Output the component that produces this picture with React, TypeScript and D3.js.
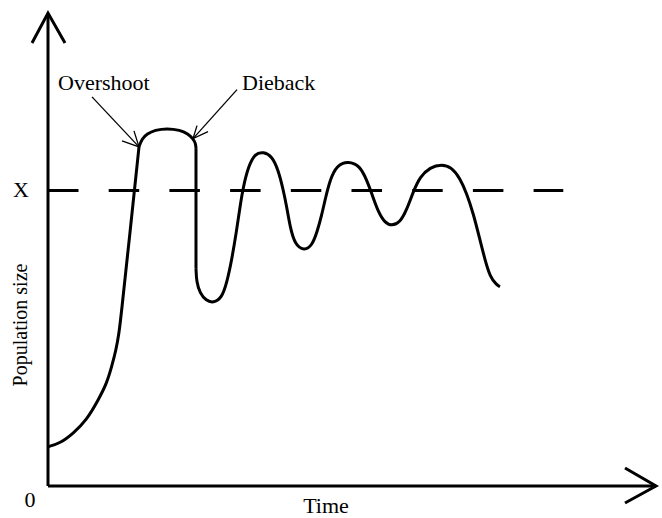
import React, { useEffect, useRef } from 'react';
import * as d3 from 'd3';

// [time, population] in chart units; carrying capacity X = 1
const growth: [number, number][] = [
  [0, 0.133], [0.395, 0.144], [0.832, 0.178], [1.273, 0.223], [1.655, 0.291],
  [1.931, 0.347], [2.095, 0.404], [2.237, 0.46], [2.336, 0.517], [2.401, 0.573],
  [2.7, 0.86], [2.993, 1.147],
];

const overshoot: [number, number][] = [
  [2.993, 1.147], [3.092, 1.175], [3.257, 1.191], [3.52, 1.204], [3.914, 1.21],
  [4.342, 1.204], [4.605, 1.191], [4.77, 1.175], [4.852, 1.16], [4.868, 1.143],
];

const dieback: [number, number][] = [
  [4.868, 1.143], [4.868, 0.737],
];

const oscillation: [number, number][] = [
  [4.868, 0.737], [4.885, 0.69], [5.0, 0.652], [5.2, 0.627], [5.438, 0.619], [5.714, 0.636],
  [5.878, 0.686], [6.043, 0.764], [6.207, 0.866], [6.316, 0.945], [6.424, 1.012],
  [6.589, 1.08], [6.809, 1.125], [7.082, 1.13], [7.359, 1.117], [7.576, 1.069],
  [7.74, 1.001], [7.852, 0.945], [7.961, 0.877], [8.125, 0.816], [8.421, 0.796],
  [8.684, 0.812], [8.86, 0.862], [9.0, 0.915], [9.13, 0.975], [9.276, 1.035],
  [9.497, 1.085], [9.878, 1.1], [10.263, 1.083], [10.484, 1.035], [10.648, 0.99],
  [10.865, 0.926], [11.086, 0.89], [11.306, 0.88], [11.579, 0.891], [11.799, 0.934],
  [12.016, 0.996], [12.237, 1.046], [12.566, 1.078], [12.951, 1.089], [13.28, 1.078],
  [13.553, 1.041], [13.773, 0.99], [13.99, 0.922], [14.211, 0.832], [14.375, 0.765],
  [14.539, 0.708], [14.76, 0.68], [14.868, 0.674],
];

const carryingCapacity = 1;
const capacityEnd = 16.95;
const timeMax = 20;
const popMax = 1.6;

const W = 662;
const H = 518;
const FONT = '"Liberation Serif", "Times New Roman", serif';

const App: React.FC = () => {
  const svgRef = useRef<SVGSVGElement>(null);

  useEffect(() => {
    if (!svgRef.current) return;
    const svg = d3.select(svgRef.current);
    svg.selectAll('*').remove();

    const x = d3.scaleLinear().domain([0, timeMax]).range([48, 656]);
    const y = d3.scaleLinear().domain([0, popMax]).range([486, 13]);

    const x0 = x(0);
    const y0 = y(0);

    // axes
    const axisG = svg.append('g')
      .attr('fill', 'none')
      .attr('stroke', '#000')
      .attr('stroke-width', 3);

    axisG.append('path')
      .attr('d', `M${x0},${y0}V${y(popMax)}`);
    axisG.append('path')
      .attr('d', `M${x0 - 16},${y(popMax) + 30}L${x0},${y(popMax)}L${x0 + 17},${y(popMax) + 30}`);
    axisG.append('path')
      .attr('d', `M${x0},${y0}H${x(timeMax)}`);
    axisG.append('path')
      .attr('d', `M${x(timeMax) - 31},${y0 - 18}L${x(timeMax)},${y0}L${x(timeMax) - 31},${y0 + 17}`);

    // carrying capacity
    svg.append('line')
      .attr('x1', x(0))
      .attr('x2', x(capacityEnd))
      .attr('y1', y(carryingCapacity))
      .attr('y2', y(carryingCapacity))
      .attr('stroke', '#000')
      .attr('stroke-width', 3)
      .attr('stroke-dasharray', '30.5,30.2');

    const smooth = d3.line<[number, number]>()
      .x(d => x(d[0]))
      .y(d => y(d[1]))
      .curve(d3.curveBasis);
    const straight = d3.line<[number, number]>()
      .x(d => x(d[0]))
      .y(d => y(d[1]));

    const curveG = svg.append('g')
      .attr('fill', 'none')
      .attr('stroke', '#000')
      .attr('stroke-width', 3)
      .attr('stroke-linejoin', 'round');

    curveG.append('path').attr('d', smooth(growth));
    curveG.append('path').attr('d', smooth(overshoot));
    curveG.append('path').attr('d', straight(dieback));
    curveG.append('path').attr('d', smooth(oscillation));

    // annotation arrows
    const arrow = (tip: [number, number], tail: [number, number], w1: [number, number], w2: [number, number]) => {
      const tx = x(tip[0]);
      const ty = y(tip[1]);
      const g = svg.append('g')
        .attr('fill', 'none')
        .attr('stroke', '#000')
        .attr('stroke-width', 1.3);
      g.append('path').attr('d', `M${tx + tail[0]},${ty + tail[1]}L${tx},${ty}`);
      g.append('path').attr('d', `M${tx + w1[0]},${ty + w1[1]}L${tx},${ty}L${tx + w2[0]},${ty + w2[1]}`);
    };

    arrow(overshoot[0], [-47, -50], [-17, -6], [-5, -16]);
    arrow(overshoot[7], [44, -49], [4, -13], [15, -7]);

    const text = (t: string, tx: number, ty: number, size = 22, anchor = 'start') =>
      svg.append('text')
        .attr('x', tx)
        .attr('y', ty)
        .attr('text-anchor', anchor)
        .style('font-family', FONT)
        .style('font-size', `${size}px`)
        .attr('fill', '#000')
        .text(t);

    text('Overshoot', 58, 90);
    text('Dieback', 242, 90);
    text('X', 21, y(carryingCapacity) + 7, 22, 'middle');
    text('0', 30, 507, 22, 'middle');
    text('Time', 326, 513, 22, 'middle');

    svg.append('text')
      .attr('transform', `translate(27, 325) rotate(-90)`)
      .attr('text-anchor', 'middle')
      .style('font-family', FONT)
      .style('font-size', '20px')
      .attr('fill', '#000')
      .text('Population size');
  }, []);

  return (
    <svg
      ref={svgRef}
      width={W}
      height={H}
      style={{ position: 'absolute', left: 0, top: 0, background: '#fff' }}
    ></svg>
  );
};

export default App;
